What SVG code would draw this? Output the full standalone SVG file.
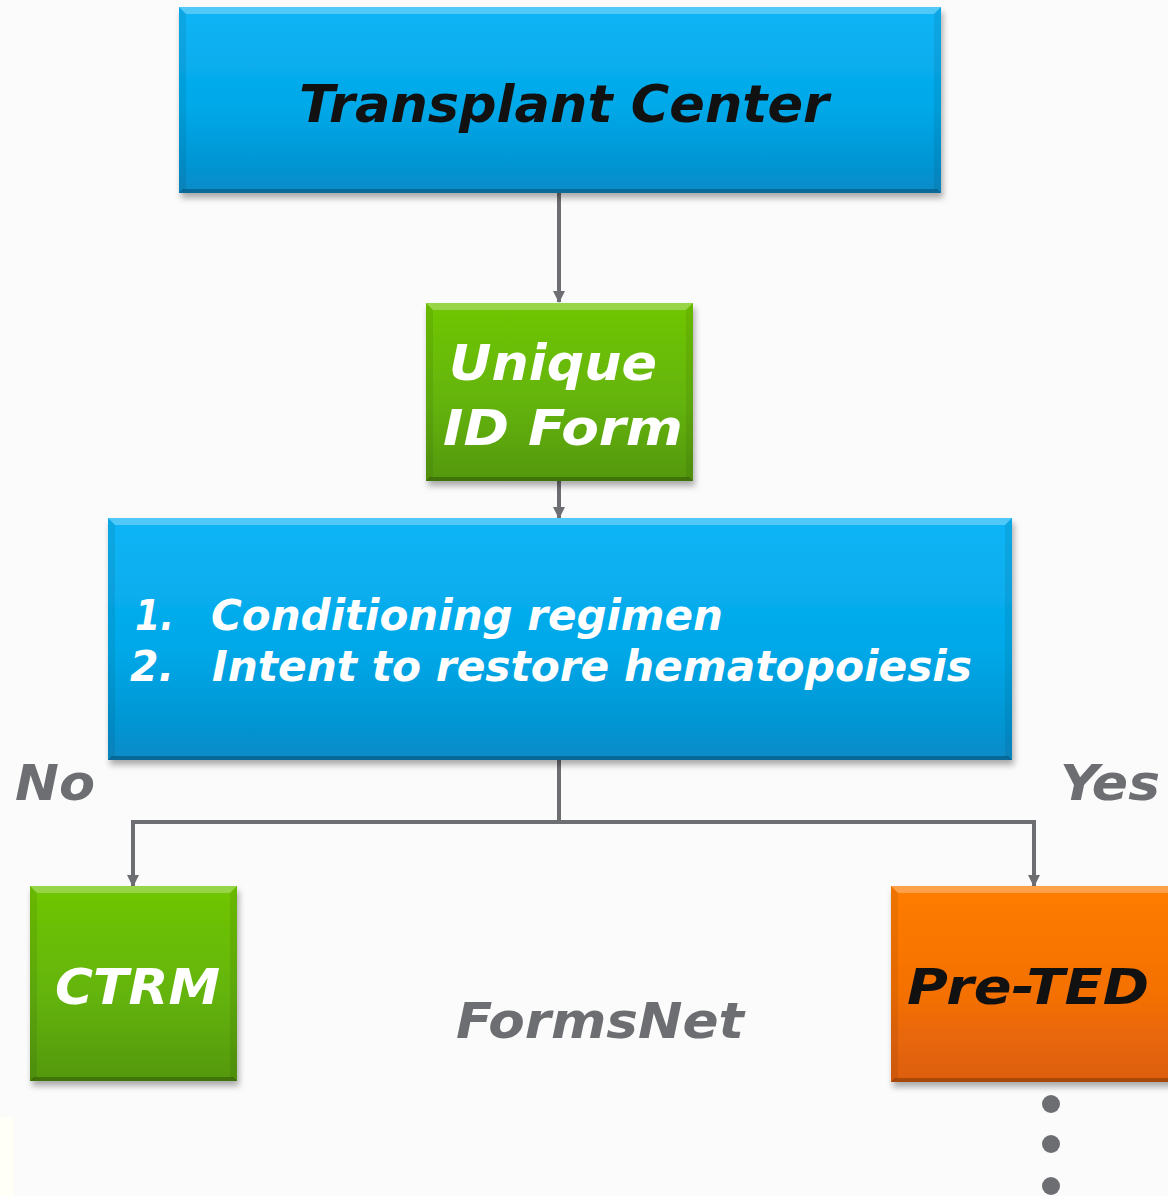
<svg xmlns="http://www.w3.org/2000/svg" width="1168" height="1196" viewBox="0 0 1168 1196">
  <defs>
    <linearGradient id="gBlue" x1="0" y1="0" x2="0" y2="1">
      <stop offset="0" stop-color="#0bb5f6"/>
      <stop offset="0.55" stop-color="#04a8e8"/>
      <stop offset="1" stop-color="#078bc8"/>
    </linearGradient>
    <linearGradient id="gGreen" x1="0" y1="0" x2="0" y2="1">
      <stop offset="0" stop-color="#70c606"/>
      <stop offset="0.55" stop-color="#64b407"/>
      <stop offset="1" stop-color="#54980a"/>
    </linearGradient>
    <linearGradient id="gOrange" x1="0" y1="0" x2="0" y2="1">
      <stop offset="0" stop-color="#ff7d05"/>
      <stop offset="0.55" stop-color="#f47006"/>
      <stop offset="1" stop-color="#dc5e08"/>
    </linearGradient>
    <filter id="shadow" x="-5%" y="-5%" width="115%" height="125%">
      <feDropShadow dx="2" dy="5" stdDeviation="3" flood-color="#000" flood-opacity="0.32"/>
    </filter>
    <marker id="arrow" viewBox="0 0 12 12" refX="11" refY="6" markerWidth="12" markerHeight="12" orient="auto" markerUnits="userSpaceOnUse">
      <path d="M0,0 L12,6 L0,12 z" fill="#6d6e71"/>
    </marker>
  </defs>
  <style>
    .lbl { font-family: "DejaVu Sans", Verdana, sans-serif; font-weight: bold; font-style: italic; }
    .dark { fill: #111111; }
    .light { fill: #ffffff; }
    .grey { fill: #6d6e71; }
    .bevel-top { fill: #ffffff; fill-opacity: 0.28; }
    .bevel-bot { fill: #000000; fill-opacity: 0.24; }
    .bevel-side { fill: #000000; fill-opacity: 0.07; }
    .link { fill: none; stroke: #6d6e71; stroke-width: 4; }
  </style>

  <!-- page background -->
  <rect x="0" y="0" width="1168" height="1196" fill="#fbfbfc"/>
  <rect x="0" y="1117" width="14" height="79" fill="#fffff8"/>

  <!-- connectors -->
  <g id="connectors">
    <line class="link" x1="559" y1="193" x2="559" y2="302" marker-end="url(#arrow)"/>
    <line class="link" x1="559" y1="481" x2="559" y2="518" marker-end="url(#arrow)"/>
    <path class="link" d="M559,760 V822"/>
    <path class="link" d="M559,822 H133 V886" marker-end="url(#arrow)"/>
    <path class="link" d="M559,822 H1034 V886" marker-end="url(#arrow)"/>
  </g>

  <!-- Transplant Center -->
  <g id="transplant-center">
    <rect x="179" y="7" width="762" height="186" fill="url(#gBlue)" filter="url(#shadow)"/>
    <polygon class="bevel-top" points="179,7 941,7 934,14 186,14"/>
    <polygon class="bevel-side" points="179,7 186,14 186,189 179,193"/>
    <polygon class="bevel-side" points="941,7 934,14 934,189 941,193"/>
    <polygon class="bevel-bot" points="179,193 941,193 937,189 183,189"/>
    <text class="lbl dark" x="564" y="122" font-size="52" text-anchor="middle" textLength="530" lengthAdjust="spacingAndGlyphs">Transplant Center</text>
  </g>

  <!-- Unique ID Form -->
  <g id="unique-id-form">
    <rect x="426" y="303" width="267" height="178" fill="url(#gGreen)" filter="url(#shadow)"/>
    <polygon class="bevel-top" points="426,303 693,303 686,310 433,310"/>
    <polygon class="bevel-side" points="426,303 433,310 433,477 426,481"/>
    <polygon class="bevel-side" points="693,303 686,310 686,477 693,481"/>
    <polygon class="bevel-bot" points="426,481 693,481 689,477 430,477"/>
    <text class="lbl light" x="449" y="380" font-size="50" textLength="208" lengthAdjust="spacingAndGlyphs">Unique</text>
    <text class="lbl light" x="443" y="445" font-size="50" textLength="240" lengthAdjust="spacingAndGlyphs">ID Form</text>
  </g>

  <!-- conditioning question -->
  <g id="criteria">
    <rect x="108" y="518" width="904" height="242" fill="url(#gBlue)" filter="url(#shadow)"/>
    <polygon class="bevel-top" points="108,518 1012,518 1005,525 115,525"/>
    <polygon class="bevel-side" points="108,518 115,525 115,756 108,760"/>
    <polygon class="bevel-side" points="1012,518 1005,525 1005,756 1012,760"/>
    <polygon class="bevel-bot" points="108,760 1012,760 1008,756 112,756"/>
    <text class="lbl light" x="135" y="630" font-size="42" textLength="39" lengthAdjust="spacingAndGlyphs">1.</text>
    <text class="lbl light" x="211" y="630" font-size="42" textLength="512" lengthAdjust="spacingAndGlyphs">Conditioning regimen</text>
    <text class="lbl light" x="130" y="681" font-size="42" textLength="44" lengthAdjust="spacingAndGlyphs">2.</text>
    <text class="lbl light" x="212" y="681" font-size="42" textLength="760" lengthAdjust="spacingAndGlyphs">Intent to restore hematopoiesis</text>
  </g>

  <!-- branch labels -->
  <g id="branch-labels">
    <text class="lbl grey" x="15" y="800" font-size="50" textLength="80" lengthAdjust="spacingAndGlyphs">No</text>
    <text class="lbl grey" x="1060" y="800" font-size="50" textLength="100" lengthAdjust="spacingAndGlyphs">Yes</text>
  </g>

  <!-- CTRM -->
  <g id="ctrm">
    <rect x="30" y="886" width="207" height="195" fill="url(#gGreen)" filter="url(#shadow)"/>
    <polygon class="bevel-top" points="30,886 237,886 230,893 37,893"/>
    <polygon class="bevel-side" points="30,886 37,893 37,1077 30,1081"/>
    <polygon class="bevel-side" points="237,886 230,893 230,1077 237,1081"/>
    <polygon class="bevel-bot" points="30,1081 237,1081 233,1077 34,1077"/>
    <text class="lbl light" x="55" y="1004" font-size="50" textLength="165" lengthAdjust="spacingAndGlyphs">CTRM</text>
  </g>

  <!-- FormsNet -->
  <g id="formsnet">
    <text class="lbl grey" x="456" y="1038" font-size="50" textLength="288" lengthAdjust="spacingAndGlyphs">FormsNet</text>
  </g>

  <!-- Pre-TED -->
  <g id="pre-ted">
    <rect x="891" y="886" width="290" height="196" fill="url(#gOrange)" filter="url(#shadow)"/>
    <polygon class="bevel-top" points="891,886 1181,886 1174,893 898,893"/>
    <polygon class="bevel-side" points="891,886 898,893 898,1078 891,1082"/>
    <polygon class="bevel-bot" points="891,1082 1181,1082 1177,1078 895,1078"/>
    <text class="lbl dark" x="907" y="1004" font-size="50" textLength="242" lengthAdjust="spacingAndGlyphs">Pre-TED</text>
  </g>

  <!-- continuation dots -->
  <g id="more" fill="#6d6e71">
    <circle cx="1051" cy="1104" r="9"/>
    <circle cx="1051" cy="1144" r="9"/>
    <circle cx="1051" cy="1186" r="9"/>
  </g>
</svg>
